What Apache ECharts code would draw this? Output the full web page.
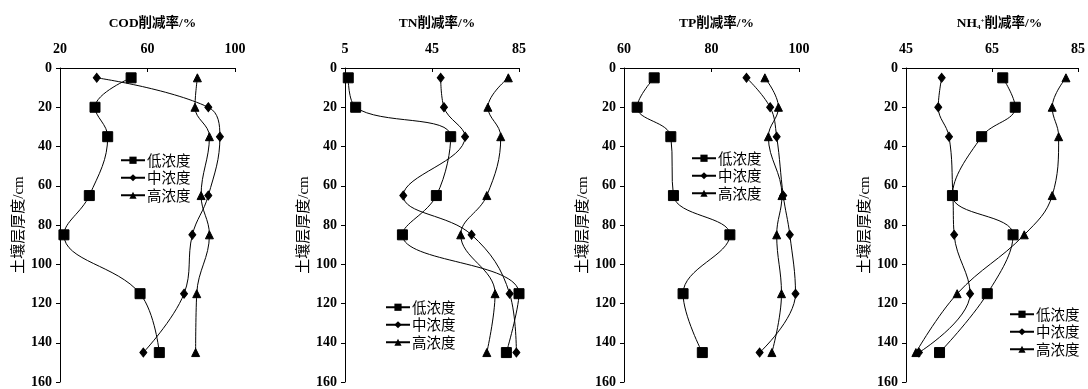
<!DOCTYPE html>
<html><head><meta charset="utf-8">
<script src="https://cdn.jsdelivr.net/npm/echarts@6/dist/echarts.min.js"></script>
<style>html,body{margin:0;padding:0;background:#fff}#c{width:1088px;height:389px}</style>
</head><body><div id="c"></div>
<script>
var depths = [5, 20, 35, 65, 85, 115, 145];
var seriesNames = ['低浓度', '中浓度', '高浓度'];
var depthTicks = [0, 20, 40, 60, 80, 100, 120, 140, 160];

var codLow  = [52.5, 36.0, 41.8, 33.4, 21.8, 56.6, 65.4];
var codMid  = [36.8, 87.8, 93.1, 87.8, 80.5, 76.7, 58.1];
var codHigh = [82.8, 81.7, 88.3, 84.5, 88.3, 82.5, 82.0];
var codTicks = [20, 60, 100];

var tnLow  = [6.5, 9.9, 53.6, 47.0, 31.4, 85.0, 79.2];
var tnMid  = [49.0, 50.5, 60.2, 31.8, 63.2, 80.7, 83.8];
var tnHigh = [80.1, 70.7, 76.6, 70.2, 58.2, 74.0, 70.2];
var tnTicks = [5, 45, 85];

var tpLow  = [66.9, 63.0, 70.7, 71.3, 84.2, 73.5, 77.9];
var tpMid  = [88.0, 93.4, 94.9, 96.4, 97.9, 99.2, 91.0];
var tpHigh = [92.2, 95.3, 93.0, 96.1, 94.9, 96.0, 93.8];
var tpTicks = [60, 80, 100];

var nhLow  = [67.5, 70.4, 62.6, 55.8, 69.9, 63.9, 52.8];
var nhMid  = [53.3, 52.5, 55.0, 55.9, 56.2, 59.9, 48.0];
var nhHigh = [82.2, 79.0, 80.5, 79.0, 72.5, 56.9, 47.3];
var nhTicks = [45, 65, 85];

var panels = [
  {title: 'COD削减率/%', ticks: codTicks, data: [codLow, codMid, codHigh]},
  {title: 'TN削减率/%', ticks: tnTicks, data: [tnLow, tnMid, tnHigh]},
  {title: 'TP削减率/%', ticks: tpTicks, data: [tpLow, tpMid, tpHigh]},
  {title: 'NH{sub|4}{sup|+}削减率/%', ticks: nhTicks, data: [nhLow, nhMid, nhHigh]}
];

var layout = [
  {left: 115, width: 175, legend: {left: 115, top: 148}},
  {left: 345, width: 174, legend: {left: 380, top: 295}},
  {left: 624, width: 175, legend: {left: 686, top: 146}},
  {left: 906, width: 177, legend: {left: 1004, top: 302}}
];
layout[0].left = 60;

var SERIF = '"Liberation Serif", "Times New Roman", serif';
var CJK = '"Liberation Serif", "Noto Sans CJK SC", serif';
var symbols = ['rect', 'diamond', 'triangle'];
var symSizes = [10, [7, 9], 8];

var grids = [], xAxes = [], yAxes = [], series = [], titles = [], legends = [];
panels.forEach(function (p, i) {
  var L = layout[i];
  grids.push({left: L.left, width: L.width, top: 68, bottom: 6});
  titles.push({
    text: p.title,
    left: L.left + L.width / 2, top: 12, textAlign: 'center',
    textStyle: {
      fontFamily: CJK, fontSize: 13.5, fontWeight: 'bold', color: '#000',
      rich: {
        sub: {fontSize: 7, fontFamily: SERIF, fontWeight: 'bold', padding: [7, 0, 0, 0]},
        sup: {fontSize: 7, fontFamily: SERIF, fontWeight: 'bold', padding: [0, 0, 6, 0]}
      }
    }
  });
  xAxes.push({
    gridIndex: i, type: 'value', position: 'top',
    min: p.ticks[0], max: p.ticks[p.ticks.length - 1],
    axisLine: {show: true, lineStyle: {color: '#000', width: 1}},
    axisTick: {show: true, inside: true, length: 4, customValues: p.ticks, lineStyle: {color: '#000'}},
    axisLabel: {customValues: p.ticks, margin: 12, color: '#000', fontFamily: SERIF, fontWeight: 'bold', fontSize: 14},
    splitLine: {show: false}
  });
  yAxes.push({
    gridIndex: i, type: 'value', inverse: true, min: 0, max: 160, interval: 20,
    name: '土壤层厚度/cm', nameLocation: 'middle', nameGap: 33, nameRotate: 90,
    nameTextStyle: {fontFamily: CJK, fontSize: 15, color: '#000'},
    axisLine: {show: true, lineStyle: {color: '#000', width: 1}},
    axisTick: {show: true, inside: false, length: 4, lineStyle: {color: '#000'}},
    axisLabel: {customValues: depthTicks, margin: 8, color: '#000', fontFamily: SERIF, fontWeight: 'bold', fontSize: 14},
    splitLine: {show: false}
  });
  p.data.forEach(function (vals, k) {
    series.push({
      name: seriesNames[k], type: 'line',
      xAxisIndex: i, yAxisIndex: i,
      data: vals.map(function (v, j) { return [v, depths[j]]; }),
      smooth: 0.4,
      symbol: symbols[k], symbolSize: symSizes[k],
      showAllSymbol: true,
      lineStyle: {color: '#000', width: 1},
      itemStyle: {color: '#000', borderColor: '#000'},
      emphasis: {disabled: true},
      z: 3 - k,
      animation: false
    });
  });
  legends.push({
    data: seriesNames, orient: 'vertical',
    left: L.legend.left, top: L.legend.top,
    itemWidth: 24, itemHeight: 9, itemGap: 3,
    textStyle: {fontFamily: '"Noto Sans CJK SC", sans-serif', fontSize: 14.5, color: '#000', padding: [0, 0, 0, -3]},
    selectedMode: false
  });
});

var chart = echarts.init(document.getElementById('c'), null, {renderer: 'canvas'});
chart.setOption({
  animation: false,
  backgroundColor: '#fff',
  title: titles,
  grid: grids,
  xAxis: xAxes,
  yAxis: yAxes,
  legend: legends,
  series: series
});
</script></body></html>
